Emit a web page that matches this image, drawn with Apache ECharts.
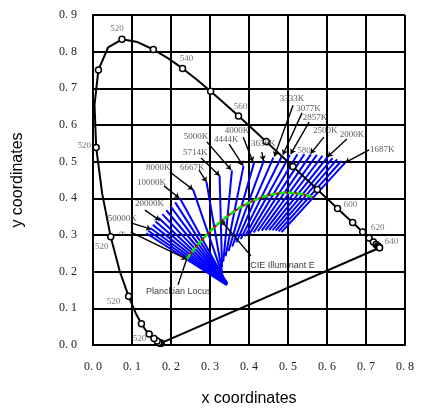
<!DOCTYPE html>
<html>
<head>
<meta charset="utf-8">
<script src="https://cdn.jsdelivr.net/npm/echarts@6/dist/echarts.min.js"></script>
<style>
html, body { margin: 0; padding: 0; background: #fff; }
#chart { width: 421px; height: 408px; }
</style>
</head>
<body>
<div id="chart"></div>
<script>
// spectral locus (nm, x, y)
var wavelengths = [380,390,400,410,420,430,440,450,460,465,470,475,480,485,490,495,500,505,510,515,520,525,530,535,540,545,550,555,560,565,570,575,580,585,590,595,600,605,610,615,620,625,630,635,640,645,650,655,660,670,680,690,700];
var locusX = [0.1741,0.1738,0.1733,0.1726,0.1714,0.1689,0.1644,0.1566,0.1440,0.1355,0.1241,0.1096,0.0913,0.0687,0.0454,0.0235,0.0082,0.0039,0.0139,0.0389,0.0743,0.1142,0.1547,0.1929,0.2296,0.2658,0.3016,0.3373,0.3731,0.4087,0.4441,0.4788,0.5125,0.5448,0.5752,0.6029,0.6270,0.6482,0.6658,0.6801,0.6915,0.7006,0.7079,0.7140,0.7190,0.7230,0.7260,0.7283,0.7300,0.7320,0.7334,0.7344,0.7347];
var locusY = [0.0050,0.0049,0.0048,0.0048,0.0051,0.0069,0.0109,0.0177,0.0297,0.0399,0.0578,0.0868,0.1327,0.2007,0.2950,0.4127,0.5384,0.6548,0.7502,0.8120,0.8338,0.8262,0.8059,0.7816,0.7543,0.7243,0.6923,0.6589,0.6245,0.5896,0.5547,0.5202,0.4866,0.4544,0.4242,0.3965,0.3725,0.3514,0.3340,0.3197,0.3083,0.2993,0.2920,0.2859,0.2809,0.2770,0.2740,0.2717,0.2700,0.2680,0.2666,0.2656,0.2653];

// wavelength labels (the picture prints 520 on the whole blue side)
var wlLabelNm   = [470,480,490,500,520,540,560,580,600,620,640];
var wlLabelText = ['520','520','520','520','520','540','560','580','600','620','640'];

// planckian locus
var planckX = [0.2399,0.2426,0.2456,0.2489,0.2525,0.2565,0.2607,0.2653,0.2701,0.2752,0.2806,0.2952,0.3110,0.3278,0.3451,0.3628,0.3805,0.3979,0.4150,0.4316,0.4475,0.4626,0.4770,0.4906,0.5034,0.5154,0.5267,0.5372,0.5471,0.5564,0.5651];
var planckY = [0.2340,0.2380,0.2424,0.2471,0.2522,0.2576,0.2633,0.2693,0.2755,0.2818,0.2883,0.3048,0.3212,0.3369,0.3516,0.3650,0.3768,0.3869,0.3954,0.4022,0.4074,0.4112,0.4137,0.4150,0.4153,0.4147,0.4133,0.4113,0.4088,0.4059,0.4027];

// isotemperature lines, upper end -> lower end
var isoX1 = [0.1368,0.1415,0.1470,0.1533,0.1605,0.1687,0.1778,0.1879,0.1989,0.2107,0.2232,0.2566,0.2910,0.3246,0.3562,0.3858,0.4132,0.4386,0.4624,0.4844,0.5050,0.5242,0.5420,0.5586,0.5740,0.5884,0.6018,0.6142,0.6258,0.6366,0.6467];
var isoY1 = [0.3048,0.3116,0.3192,0.3277,0.3368,0.3466,0.3569,0.3675,0.3782,0.3889,0.3993,0.4237,0.4446,0.4619,0.4761,0.4878,0.4974,0.5051,0.5110,0.5154,0.5184,0.5200,0.5205,0.5199,0.5184,0.5161,0.5133,0.5098,0.5060,0.5018,0.4974];
var isoX2 = [0.3429,0.3436,0.3442,0.3445,0.3445,0.3442,0.3436,0.3426,0.3413,0.3398,0.3380,0.3337,0.3310,0.3309,0.3340,0.3398,0.3477,0.3572,0.3677,0.3787,0.3899,0.4011,0.4120,0.4226,0.4327,0.4424,0.4516,0.4603,0.4685,0.4762,0.4835];
var isoY2 = [0.1633,0.1645,0.1656,0.1666,0.1676,0.1686,0.1698,0.1711,0.1727,0.1748,0.1772,0.1859,0.1978,0.2119,0.2271,0.2421,0.2561,0.2687,0.2797,0.2889,0.2964,0.3024,0.3069,0.3101,0.3121,0.3132,0.3134,0.3128,0.3117,0.3100,0.3080];

// CCT labels and their arrows
var cctText  = ['\u221e','50000K','20000K','10000K','8000K','6667K','5714K','5000K','4444K','4000K','3636K','3333K','3077K','2857K','2500K','2000K','1687K'];
var cctLabX  = [0.067,0.038,0.108,0.113,0.136,0.223,0.231,0.233,0.310,0.338,0.405,0.479,0.521,0.538,0.564,0.633,0.710];
var cctLabY  = [0.305,0.344,0.385,0.442,0.483,0.485,0.524,0.567,0.559,0.584,0.548,0.671,0.644,0.619,0.584,0.575,0.532];
var arrFromX = [0.097,0.097,0.133,0.182,0.197,0.272,0.277,0.292,0.349,0.385,0.433,0.513,0.536,0.554,0.592,0.651,0.708];
var arrFromY = [0.308,0.333,0.368,0.434,0.472,0.477,0.510,0.554,0.548,0.567,0.526,0.654,0.633,0.608,0.567,0.562,0.532];
var arrToX   = [0.240,0.149,0.171,0.221,0.2566,0.2910,0.3246,0.354,0.385,0.410,0.437,0.465,0.487,0.507,0.558,0.6018,0.6467];
var arrToY   = [0.234,0.316,0.340,0.401,0.4237,0.4446,0.4619,0.478,0.489,0.500,0.503,0.514,0.519,0.521,0.522,0.5133,0.4974];

var illumE = [0.3333, 0.3333];
var xTickLabels = ['0. 0','0. 1','0. 2','0. 3','0. 4','0. 5','0. 6','0. 7','0. 8'];
var yTickLabels = ['0. 0','0. 1','0. 2','0. 3','0. 4','0. 5','0. 6','0. 7','0. 8','0. 9'];

var wlOffsets = {470:[-2,15],480:[-15,5],490:[-9,10],500:[-12,-2],520:[-5,-11],540:[4,-10],560:[2,-9],580:[11,-16],600:[13,-4],620:[15,-4],640:[18,0]};

function pts(xs, ys) {
	var out = [];
	for (var i = 0; i < xs.length; i++) out.push([xs[i], ys[i]]);
	return out;
}

var chart = echarts.init(document.getElementById('chart'));

var isoData = [];
for (var i = 0; i < isoX1.length; i++) {
	isoData.push({coords: [[isoX1[i], isoY1[i]], [isoX2[i], isoY2[i]]]});
}
var circleData = [];
for (var i = 0; i < wavelengths.length; i++) {
	if (wavelengths[i] % 10 == 0) circleData.push([locusX[i], locusY[i]]);
}
var wlData = [];
for (var i = 0; i < wlLabelNm.length; i++) {
	var k = wavelengths.indexOf(wlLabelNm[i]);
	wlData.push({
		value: [locusX[k], locusY[k]],
		label: {formatter: wlLabelText[i], offset: wlOffsets[wlLabelNm[i]]}
	});
}
var arrowData = [];
var cctLabData = [];
for (var i = 0; i < cctText.length; i++) {
	arrowData.push({coords: [[arrFromX[i], arrFromY[i]], [arrToX[i], arrToY[i]]]});
	cctLabData.push({value: [cctLabX[i], cctLabY[i]], label: {formatter: cctText[i]}});
}
var last = locusX.length - 1;

var serif = '"Liberation Serif", "DejaVu Serif", serif';
var sans = '"Liberation Sans", Arial, sans-serif';

var option = {
	animation: false,
	backgroundColor: '#fff',
	grid: {left: 93, right: 16, top: 15, bottom: 63, containLabel: false, outerBoundsMode: 'none'},
	xAxis: {
		type: 'value', min: 0, max: 0.8, interval: 0.1,
		name: 'x coordinates', nameLocation: 'middle', nameGap: 46,
		nameTextStyle: {fontFamily: sans, fontSize: 16, color: '#000'},
		axisLine: {lineStyle: {color: '#000', width: 2}},
		axisTick: {show: false},
		splitLine: {lineStyle: {color: '#000', width: 2}},
		axisLabel: {
			margin: 16, fontFamily: serif, fontSize: 12, color: '#222',
			formatter: function(v) { return xTickLabels[Math.round(v * 10)]; }
		}
	},
	yAxis: {
		type: 'value', min: 0, max: 0.9, interval: 0.1,
		name: 'y coordinates', nameLocation: 'middle', nameGap: 67, nameRotate: 90,
		nameTextStyle: {fontFamily: sans, fontSize: 16, color: '#000'},
		axisLine: {lineStyle: {color: '#000', width: 2}},
		axisTick: {show: false},
		splitLine: {lineStyle: {color: '#000', width: 2}},
		axisLabel: {
			margin: 16, fontFamily: serif, fontSize: 12, color: '#222',
			formatter: function(v) { return yTickLabels[Math.round(v * 10)]; }
		}
	},
	series: [
		{	// isotemperature lines
			type: 'lines', coordinateSystem: 'cartesian2d', z: 2,
			lineStyle: {color: '#0000ff', width: 2, opacity: 1},
			data: isoData
		},
		{
			type: 'line', z: 3, smooth: true, symbol: 'none',
			lineStyle: {color: '#cc0000', width: 2},
			data: pts(planckX, planckY)
		},
		{	// planckian locus
			type: 'line', z: 4, smooth: true, symbol: 'none',
			lineStyle: {color: '#00ee00', width: 2.5, type: [6, 3]},
			data: pts(planckX, planckY)
		},
		{	// spectral locus
			type: 'line', z: 5, symbol: 'none',
			lineStyle: {color: '#000', width: 2},
			data: pts(locusX, locusY)
		},
		{	// purple line
			type: 'line', z: 5, symbol: 'none',
			lineStyle: {color: '#000', width: 2},
			data: [[locusX[last], locusY[last]], [locusX[0], locusY[0]]]
		},
		{
			type: 'scatter', z: 6, symbol: 'circle', symbolSize: 6,
			itemStyle: {color: '#fff', borderColor: '#000', borderWidth: 1.5, opacity: 1},
			data: circleData
		},
		{	// wavelength labels
			type: 'scatter', z: 7, symbolSize: 0,
			label: {show: true, position: 'inside', fontFamily: serif, fontSize: 9, color: '#555'},
			data: wlData
		},
		{	// label arrows
			type: 'lines', coordinateSystem: 'cartesian2d', z: 8,
			symbol: ['none', 'arrow'], symbolSize: 5,
			lineStyle: {color: '#000', width: 1.4, opacity: 1},
			data: arrowData
		},
		{
			type: 'scatter', z: 9, symbolSize: 0,
			label: {show: true, position: 'right', distance: 0, fontFamily: serif, fontSize: 9, color: '#333'},
			data: cctLabData
		},
		{	// pointers for locus / illuminant E
			type: 'lines', coordinateSystem: 'cartesian2d', z: 8,
			lineStyle: {color: '#000', width: 1.4, opacity: 1},
			data: [
				{coords: [[0.218, 0.164], [0.240, 0.234]]},
				{coords: [illumE, [0.405, 0.243]]}
			]
		},
		{
			type: 'scatter', z: 9, symbol: 'circle', symbolSize: 5,
			itemStyle: {color: '#000'},
			data: [illumE]
		},
		{
			type: 'scatter', z: 9, symbolSize: 0,
			label: {show: true, position: 'right', distance: 0, fontFamily: sans, fontSize: 9, color: '#000'},
			data: [
				{value: [0.136, 0.145], label: {formatter: 'Planckian Locus'}},
				{value: [0.403, 0.218], label: {formatter: 'CIE Illuminant E'}}
			]
		}
	]
};
chart.setOption(option);
</script>
</body>
</html>
